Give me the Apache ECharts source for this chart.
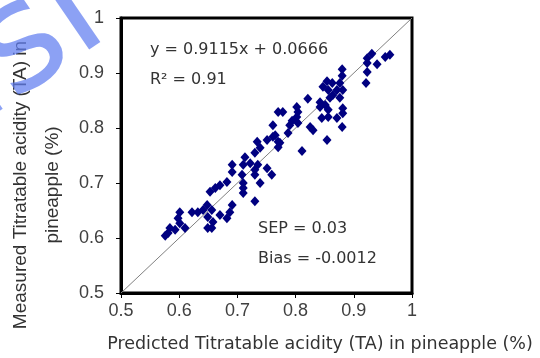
<!DOCTYPE html>
<html>
<head>
<meta charset="utf-8">
<script src="https://cdn.jsdelivr.net/npm/echarts@6/dist/echarts.min.js"></script>
<style>
  html, body { margin: 0; padding: 0; background: #fff; }
  #chart { width: 540px; height: 358px; }
</style>
</head>
<body>
<div id="chart"></div>
<script>
// Predicted vs measured titratable acidity (%) for pineapple samples
const predictedTA = [
  0.931, 0.923, 0.923, 0.940, 0.954, 0.962, 0.923, 0.921, 0.880, 0.880,
  0.854, 0.863, 0.876, 0.847, 0.856, 0.871, 0.881, 0.864, 0.876, 0.859,
  0.821, 0.842, 0.851, 0.856, 0.842, 0.881, 0.881, 0.871, 0.880, 0.856,
  0.845, 0.825, 0.830, 0.854, 0.802, 0.804, 0.802, 0.770, 0.778, 0.790,
  0.794, 0.804, 0.761, 0.765, 0.787, 0.773, 0.811, 0.761, 0.770, 0.770,
  0.751, 0.734, 0.739, 0.730, 0.713, 0.722, 0.735, 0.751, 0.759, 0.730,
  0.730, 0.710, 0.691, 0.691, 0.708, 0.739, 0.710, 0.710, 0.710, 0.730,
  0.682, 0.670, 0.662, 0.653, 0.691, 0.687, 0.682, 0.670, 0.656, 0.648,
  0.641, 0.632, 0.622, 0.649, 0.658, 0.649, 0.656, 0.601, 0.598, 0.601,
  0.610, 0.593, 0.581, 0.584, 0.576
];
const measuredTA = [
  0.935, 0.927, 0.918, 0.916, 0.929, 0.933, 0.902, 0.882, 0.907, 0.895,
  0.885, 0.882, 0.882, 0.875, 0.869, 0.869, 0.869, 0.860, 0.855, 0.855,
  0.853, 0.847, 0.842, 0.833, 0.838, 0.836, 0.827, 0.818, 0.802, 0.820,
  0.818, 0.802, 0.796, 0.778, 0.838, 0.829, 0.820, 0.829, 0.829, 0.805,
  0.813, 0.809, 0.805, 0.787, 0.791, 0.773, 0.758, 0.784, 0.775, 0.765,
  0.778, 0.775, 0.764, 0.755, 0.747, 0.736, 0.733, 0.727, 0.715, 0.724,
  0.715, 0.733, 0.733, 0.720, 0.715, 0.700, 0.700, 0.682, 0.691, 0.667,
  0.702, 0.696, 0.691, 0.684, 0.660, 0.647, 0.636, 0.642, 0.651, 0.660,
  0.651, 0.647, 0.647, 0.638, 0.629, 0.618, 0.618, 0.647, 0.636, 0.627,
  0.618, 0.615, 0.609, 0.618, 0.604
];
// 1:1 reference line
const identityLine = [[0.5, 0.5], [1, 1]];
const axisTicks = [0.5, 0.6, 0.7, 0.8, 0.9, 1];

const equationText = 'y = 0.9115x + 0.0666';
const r2Text = 'R\u00b2 = 0.91';
const sepText = 'SEP = 0.03';
const biasText = 'Bias = -0.0012';
const xTitle = 'Predicted Titratable acidity (TA) in pineapple (%)';
const yTitleLines = ['Measured Titratable acidity (TA) in', 'pineapple (%)'];
const watermarkText = 'nsl';

const points = predictedTA.map((x, i) => [x, measuredTA[i]]);

const chart = echarts.init(document.getElementById('chart'), null, { renderer: 'canvas' });

const tickFont = { fontFamily: 'Liberation Sans', fontSize: 18, color: '#404040' };
const noteFont = 'DejaVu Sans';

function axisCommon() {
  return {
    type: 'value',
    min: axisTicks[0],
    max: axisTicks[axisTicks.length - 1],
    interval: 0.1,
    splitLine: { show: false },
    axisLine: { show: true, onZero: false, lineStyle: { color: '#000', width: 3 } },
    axisTick: { show: true, inside: false, length: 5, lineStyle: { color: '#000', width: 1 } },
  };
}

chart.setOption({
  animation: false,
  backgroundColor: '#fff',
  grid: {
    left: 121, top: 18, width: 291, height: 275,
    show: true, borderColor: '#000', borderWidth: 3, backgroundColor: 'transparent'
  },
  xAxis: Object.assign(axisCommon(), {
    axisLabel: Object.assign({ margin: 9 }, tickFont),
    name: xTitle,
    nameLocation: 'middle',
    nameGap: 42,
    nameTextStyle: { fontFamily: noteFont, fontSize: 17.5, color: '#333', padding: [0, 0, 0, 107] }
  }),
  yAxis: Object.assign(axisCommon(), {
    axisLabel: Object.assign({ margin: 17 }, tickFont)
  }),
  series: [
    {
      type: 'line',
      data: identityLine,
      symbol: 'none',
      lineStyle: { color: '#808080', width: 1 },
      silent: true,
      z: 1
    },
    {
      type: 'scatter',
      data: points,
      symbol: 'diamond',
      symbolSize: [9, 10],
      itemStyle: { color: '#000080', opacity: 1 },
      z: 2
    }
  ],
  graphic: [
    {
      type: 'text', left: 150, top: 42, z: 10,
      style: { text: equationText, font: '16px "DejaVu Sans"', fill: '#333' }
    },
    {
      type: 'text', left: 150, top: 72, z: 10,
      style: { text: r2Text, font: '16px "DejaVu Sans"', fill: '#333' }
    },
    {
      type: 'text', left: 258, top: 221, z: 10,
      style: { text: sepText, font: '16px "DejaVu Sans"', fill: '#333' }
    },
    {
      type: 'text', left: 258, top: 251, z: 10,
      style: { text: biasText, font: '16px "DejaVu Sans"', fill: '#333' }
    },
    {
      type: 'text', x: 37, y: 185, rotation: Math.PI / 2, z: 10,
      style: {
        text: yTitleLines.join('\n'),
        font: '19px "Liberation Sans"', fill: '#333',
        align: 'center', verticalAlign: 'middle', lineHeight: 32
      }
    },
    {
      // blue site watermark across the upper left corner
      type: 'text', x: -45, y: 185, rotation: 0.6, z: 20,
      style: {
        text: watermarkText,
        font: '150px "DejaVu Sans"', fill: 'rgba(95,125,240,0.72)',
        align: 'left', verticalAlign: 'bottom'
      }
    }
  ]
});
</script>
</body>
</html>
